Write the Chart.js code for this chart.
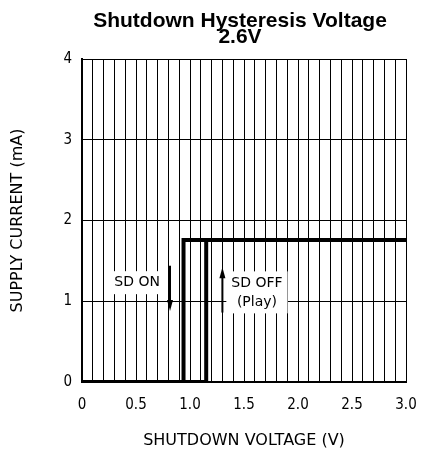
<!DOCTYPE html>
<html>
<head>
<meta charset="utf-8">
<script src="https://cdn.jsdelivr.net/npm/chart.js@4/dist/chart.umd.min.js"></script>
<style>
  html, body { margin: 0; padding: 0; background: #fff; }
  #wrap { width: 421px; height: 450px; }
</style>
</head>
<body>
<div id="wrap"><canvas id="c" width="421" height="450"></canvas></div>
<script>
// data
var offX = [0, 1.15, 1.15, 3.0];      // SD OFF (rising) trace
var offY = [0, 0, 1.76, 1.76];
var onX = [3.0, 0.94, 0.94, 0];       // SD ON (falling) trace
var onY = [1.76, 1.76, 0, 0];
var xTickLabels = ['0', '0.5', '1.0', '1.5', '2.0', '2.5', '3.0'];
var titleLines = ['Shutdown Hysteresis Voltage', '2.6V'];

// notes: text, data position
var notes = [
    { lines: ['SD ON'], x: 0.51, y: 1.23 },
    { lines: ['SD OFF', '(Play)'], x: 1.62, y: 1.11 }
];
var arrows = [
    { x: 0.815, y0: 1.44, y1: 0.88 },
    { x: 1.30, y0: 0.86, y1: 1.42 }
];

var tickFont = "'Liberation Sans Narrow', 'DejaVu Sans Condensed', sans-serif";
var labelFont = "'DejaVu Sans', sans-serif";

function pts(xs, ys) {
    return xs.map(function (x, i) { return { x: x, y: ys[i] }; });
}

var notesPlugin = {
    id: 'notes',
    afterDatasetsDraw: function (chart) {
        var ctx = chart.ctx, xs = chart.scales.x, ys = chart.scales.y;
        var area = chart.chartArea;
        ctx.save();
        // title, centred over the plot
        ctx.fillStyle = '#000';
        ctx.textAlign = 'center';
        ctx.textBaseline = 'alphabetic';
        ctx.font = "bold 21px 'Liberation Sans', Arial, sans-serif";
        var tx = (area.left + area.right) / 2 - 4;
        ctx.fillText(titleLines[0], tx, 27);
        ctx.fillText(titleLines[1], tx, 43);

        ctx.font = '14px ' + labelFont;
        ctx.textBaseline = 'middle';
        notes.forEach(function (n) {
            var cx = xs.getPixelForValue(n.x), cy = ys.getPixelForValue(n.y);
            var w = 0;
            n.lines.forEach(function (l) { w = Math.max(w, ctx.measureText(l).width); });
            var lh = 19, h = n.lines.length * lh;
            ctx.fillStyle = '#fff';
            ctx.fillRect(cx - w / 2 - 5, cy - h / 2 - 2, w + 10, h + 4);
            ctx.fillStyle = '#000';
            n.lines.forEach(function (l, i) {
                ctx.fillText(l, cx, cy - h / 2 + lh / 2 + i * lh);
            });
        });
        arrows.forEach(function (a) {
            var px = xs.getPixelForValue(a.x);
            var p0 = ys.getPixelForValue(a.y0), p1 = ys.getPixelForValue(a.y1);
            var dir = p1 > p0 ? 1 : -1;
            ctx.strokeStyle = '#000';
            ctx.lineWidth = 2;
            ctx.beginPath();
            ctx.moveTo(px, p0);
            ctx.lineTo(px, p1 - dir * 8);
            ctx.stroke();
            ctx.fillStyle = '#000';
            ctx.beginPath();
            ctx.moveTo(px, p1);
            ctx.lineTo(px - 3, p1 - dir * 11);
            ctx.lineTo(px + 3, p1 - dir * 11);
            ctx.closePath();
            ctx.fill();
        });
        ctx.restore();
    }
};

new Chart(document.getElementById('c'), {
    type: 'scatter',
    data: {
        datasets: [{
            label: 'SD OFF',
            data: pts(offX, offY),
            showLine: true,
            borderColor: '#000',
            borderWidth: 4,
            pointRadius: 0,
            borderCapStyle: 'square'
        }, {
            label: 'SD ON',
            data: pts(onX, onY),
            showLine: true,
            borderColor: '#000',
            borderWidth: 4,
            pointRadius: 0,
            borderCapStyle: 'square'
        }]
    },
    options: {
        responsive: false,
        animation: false,
        layout: { padding: { top: 59, right: 15, left: 0, bottom: 0 } },
        plugins: {
            legend: { display: false },
            tooltip: { enabled: false },
            title: { display: false }
        },
        scales: {
            x: {
                type: 'linear',
                min: 0,
                max: 3,
                afterFit: function (s) {
                    s.height = 68;
                    s.paddingLeft = 0;
                    s.paddingRight = 0;
                },
                border: { color: '#000', width: 2 },
                grid: { color: '#000', lineWidth: 1, drawTicks: false },
                ticks: {
                    stepSize: 0.1,
                    autoSkip: false,
                    maxRotation: 0,
                    color: '#000',
                    padding: 14,
                    font: { family: tickFont, size: 15 },
                    callback: function (v) {
                        var k = Math.round(v * 10);
                        return k % 5 === 0 ? xTickLabels[k / 5] : '';
                    }
                },
                title: {
                    display: true,
                    text: 'SHUTDOWN VOLTAGE (V)',
                    color: '#000',
                    font: { family: labelFont, size: 16 },
                    padding: { top: 0, bottom: 0 }
                }
            },
            y: {
                min: 0,
                max: 4,
                afterFit: function (s) {
                    s.width = 82;
                    s.paddingTop = 0;
                    s.paddingBottom = 0;
                },
                border: { color: '#000', width: 2 },
                grid: { color: '#000', lineWidth: 1, drawTicks: false },
                ticks: {
                    stepSize: 1,
                    color: '#000',
                    padding: 10,
                    font: { family: tickFont, size: 15 }
                },
                title: {
                    display: true,
                    text: 'SUPPLY CURRENT (mA)',
                    color: '#000',
                    font: { family: labelFont, size: 16 },
                    padding: { top: 8, bottom: 0 }
                }
            }
        }
    },
    plugins: [notesPlugin]
});
</script>
</body>
</html>
